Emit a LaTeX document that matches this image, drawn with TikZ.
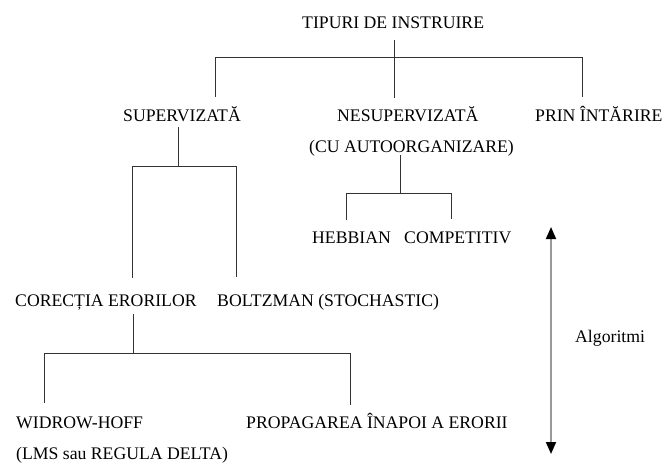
\documentclass[tikz,border=0pt]{standalone}
\usepackage{fontspec}
\setmainfont{Liberation Serif}
\usetikzlibrary{calc,arrows.meta}

\begin{document}
\begin{tikzpicture}[
    x=1pt, y=-1pt,
    font=\fontsize{17.7pt}{21pt}\selectfont,
    txt/.style={anchor=base west, inner sep=0pt},
    link/.style={draw=black!80, line width=1pt},
    axisarrow/.style={draw=black!40, line width=1.8pt,
      arrows={Triangle[black, width=10pt, length=12pt]-Triangle[black, width=10pt, length=12pt]}}
  ]
  \useasboundingbox (0,0) rectangle (664,464);

  % labels of the classification tree
  \node[txt] (root)   at (302,28)  {TIPURI DE INSTRUIRE};
  \node[txt] (sup)    at (123,121) {SUPERVIZATĂ};
  \node[txt] (nesup)  at (337,121) {NESUPERVIZATĂ};
  \node[txt] (prin)   at (535,121) {PRIN ÎNTĂRIRE};
  \node[txt] (auto)   at (309,152) {(CU AUTOORGANIZARE)};
  \node[txt] (hebb)   at (312,243) {HEBBIAN};
  \node[txt] (comp)   at (404,243) {COMPETITIV};
  \node[txt] (corr)   at (15,306)  {CORECȚIA ERORILOR};
  \node[txt] (boltz)  at (217,306) {BOLTZMAN (STOCHASTIC)};
  \node[txt] (widrow) at (16,428)  {WIDROW-HOFF};
  \node[txt] (lms)    at (16,459)  {(LMS sau REGULA DELTA)};
  \node[txt] (prop)   at (246,428) {PROPAGAREA ÎNAPOI A ERORII};
  \node[txt] (alg)    at (575,342) {Algoritmi};

  % first level: types of learning
  \coordinate (rb) at (394,57);
  \coordinate (rl) at (215,57);
  \coordinate (rr) at (582,57);
  \draw[link] ($(root.base -| rb)+(0,12)$) -- ($(nesup.base -| rb)+(0,-23)$);
  \draw[link] ($(sup.base -| rl)+(0,-24)$) -- (rl) -- (rr) -- ($(prin.base -| rr)+(0,-24)$);

  % supervised branch
  \coordinate (sb) at (178,166);
  \coordinate (sl) at (132,166);
  \coordinate (sr) at (236,166);
  \draw[link] ($(sup.base -| sb)+(0,6)$) -- (sb);
  \draw[link] ($(corr.base -| sl)+(0,-28)$) -- (sl) -- (sr) -- ($(boltz.base -| sr)+(0,-29)$);

  % unsupervised branch
  \coordinate (nb) at (400,193);
  \coordinate (nl) at (346,193);
  \coordinate (nr) at (451,193);
  \draw[link] ($(auto.base -| nb)+(0,3)$) -- (nb);
  \draw[link] ($(hebb.base -| nl)+(0,-23)$) -- (nl) -- (nr) -- ($(comp.base -| nr)+(0,-24)$);

  % error-correction branch
  \coordinate (cb) at (133,353);
  \coordinate (cl) at (44,353);
  \coordinate (cr) at (350,353);
  \draw[link] ($(corr.base -| cb)+(0,8)$) -- (cb);
  \draw[link] ($(widrow.base -| cl)+(0,-25)$) -- (cl) -- (cr) -- ($(prop.base -| cr)+(0,-23)$);

  % algorithm axis
  \coordinate (atop) at (551,227);
  \coordinate (abot) at (551,454);
  \draw[axisarrow] (atop) -- (abot);
\end{tikzpicture}
\end{document}
